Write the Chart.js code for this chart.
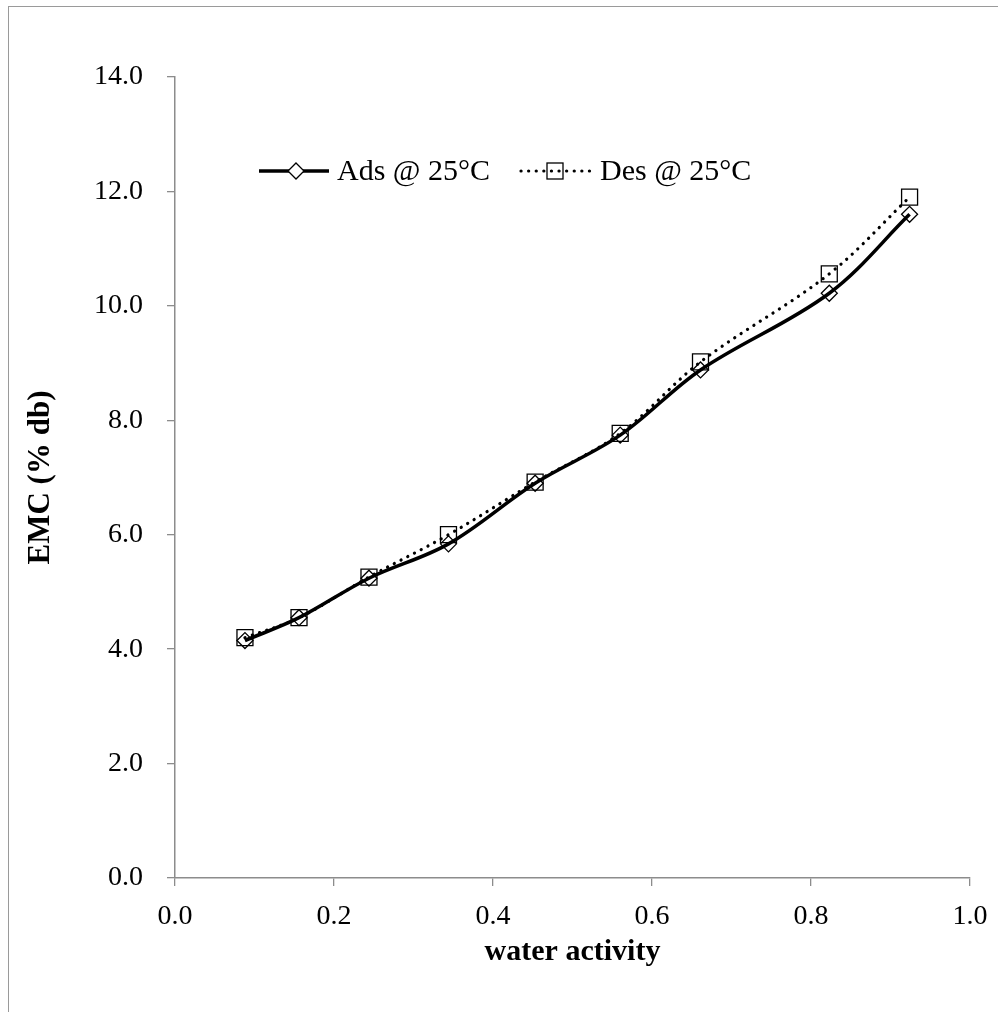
<!DOCTYPE html>
<html>
<head>
<meta charset="utf-8">
<script src="https://cdn.jsdelivr.net/npm/chart.js@4.4.1/dist/chart.umd.min.js"></script>
<style>
  body { margin: 0; background: #fff; }
  #wrap { position: relative; width: 998px; height: 1012px; }
  #frame { position: absolute; left: 8px; top: 6px; width: 1000px; height: 1020px;
           border-left: 1px solid #9a9a9a; border-top: 1px solid #9a9a9a; pointer-events: none; }
</style>
</head>
<body>
<div id="wrap">
  <canvas id="emc-chart" width="998" height="1012"></canvas>
  <div id="frame"></div>
</div>
<script>
// water activity values and EMC readings
const water_activity = [0.088, 0.156, 0.244, 0.344, 0.453, 0.560, 0.661, 0.823, 0.924];
const ads_25 = [4.15, 4.55, 5.24, 5.84, 6.90, 7.74, 8.88, 10.22, 11.60];
const des_25 = [4.20, 4.55, 5.26, 6.00, 6.92, 7.77, 9.02, 10.56, 11.90];
const series_labels = ["Ads @ 25°C", "Des @ 25°C"];

const serif = "'Liberation Serif', 'Times New Roman', serif";
const axis_grey = "#8c8c8c";

function to_points(ys) {
    const pts = [];
    for (let i = 0; i < water_activity.length; i++) {
        pts.push({x: water_activity[i], y: ys[i]});
    }
    return pts;
}

// legend drawn inside the plot like the original
const inline_legend = {
    id: "inline_legend",
    afterDraw(chart) {
        const c = chart.ctx;
        const y = 171;
        c.save();
        c.strokeStyle = "#000";

        // Ads: solid line + diamond
        c.lineWidth = 3.5;
        c.setLineDash([]);
        c.beginPath(); c.moveTo(259, y); c.lineTo(329, y); c.stroke();
        c.lineWidth = 1.3;
        c.fillStyle = "#fff";
        c.beginPath();
        c.moveTo(296, y - 8); c.lineTo(304, y); c.lineTo(296, y + 8); c.lineTo(288, y);
        c.closePath(); c.fill(); c.stroke();

        // Des: dotted line + square
        c.lineWidth = 3.2;
        c.lineCap = "round";
        c.setLineDash([0.1, 7.5]);
        c.beginPath(); c.moveTo(521, y); c.lineTo(596, y); c.stroke();
        c.setLineDash([]);
        c.lineCap = "butt";
        c.lineWidth = 1.3;
        c.strokeRect(547, y - 8, 16, 16);

        c.fillStyle = "#000";
        c.font = "30px " + serif;
        c.textBaseline = "middle";
        c.fillText(series_labels[0], 337, y + 1);
        c.fillText(series_labels[1], 600, y + 1);
        c.restore();
    }
};

const ctx = document.getElementById("emc-chart").getContext("2d");

const data = {
    datasets: [
        {
            label: series_labels[1],
            data: to_points(des_25),
            borderColor: "#000",
            borderWidth: 3.2,
            borderDash: [0.1, 7.5],
            borderCapStyle: "round",
            tension: 0.35,
            pointStyle: "rect",
            pointRadius: 11.3,
            pointBorderWidth: 1.3,
            pointBorderColor: "#000",
            pointBackgroundColor: "rgba(255,255,255,0)",
            order: 2
        },
        {
            label: series_labels[0],
            data: to_points(ads_25),
            borderColor: "#000",
            borderWidth: 3.5,
            tension: 0.35,
            pointStyle: "rectRot",
            pointRadius: 8,
            pointBorderWidth: 1.3,
            pointBorderColor: "#000",
            pointBackgroundColor: "rgba(255,255,255,0)",
            order: 1
        }
    ]
};

const options = {
    responsive: false,
    animation: false,
    layout: { padding: { left: 0, top: 77, right: 28, bottom: 0 } },
    plugins: { legend: { display: false }, tooltip: { enabled: false } },
    scales: {
        x: {
            type: "linear",
            min: 0,
            max: 1,
            afterFit(scale) {
                scale.height = 134;
                scale.paddingLeft = 0;
                scale.paddingRight = 0;
            },
            ticks: {
                stepSize: 0.2,
                padding: 14,
                color: "#000",
                font: { family: serif, size: 28 },
                callback: (v) => v.toFixed(1)
            },
            grid: { drawOnChartArea: false, drawTicks: true, tickLength: 8, color: axis_grey, lineWidth: 1.3 },
            border: { display: true, color: axis_grey, width: 1.5 },
            title: {
                display: true,
                text: "water activity",
                color: "#000",
                font: { family: serif, size: 30, weight: "bold" },
                padding: { top: 0, bottom: 42 }
            }
        },
        y: {
            type: "linear",
            min: 0,
            max: 14,
            afterFit(scale) {
                scale.width = 175;
                scale.paddingTop = 0;
                scale.paddingBottom = 0;
            },
            ticks: {
                stepSize: 2,
                padding: 24,
                color: "#000",
                font: { family: serif, size: 28 },
                callback: (v) => v.toFixed(1)
            },
            grid: { drawOnChartArea: false, drawTicks: true, tickLength: 8, color: axis_grey, lineWidth: 1.3 },
            border: { display: true, color: axis_grey, width: 1.5 },
            title: {
                display: true,
                text: "EMC (% db)",
                color: "#000",
                font: { family: serif, size: 31, weight: "bold" },
                padding: { top: 22, bottom: 0 }
            }
        }
    }
};

const emc_chart = new Chart(ctx, {
    type: "line",
    data: data,
    options: options,
    plugins: [inline_legend]
});
</script>
</body>
</html>
